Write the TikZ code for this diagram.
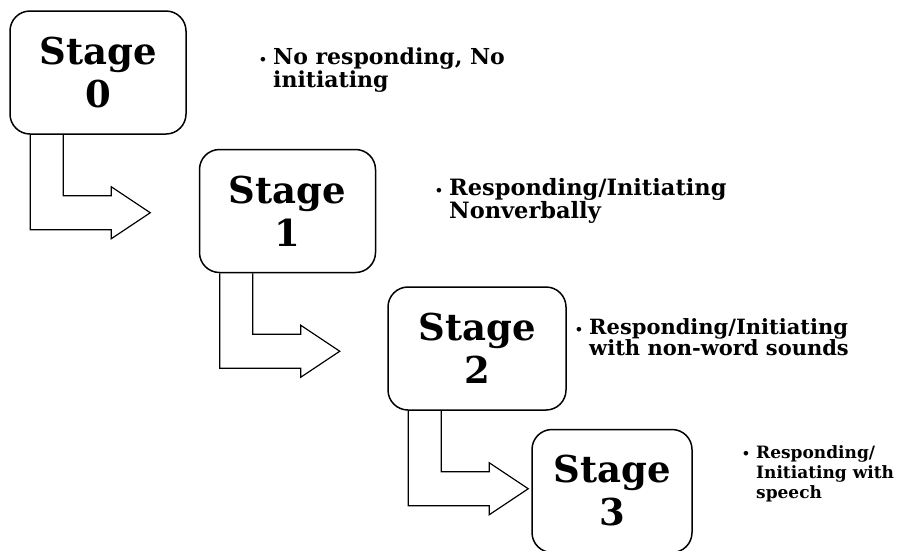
\documentclass[tikz,border=0pt]{standalone}
\usepackage{fontspec}
\setmainfont{DejaVu Serif}
\usetikzlibrary{calc}

\tikzset{
  stagebox/.style={draw, line width=1.5pt, rounded corners=20pt, align=center,
    inner sep=0pt, minimum height=123pt,
    font=\bfseries\fontsize{37}{43}\selectfont},
  flow/.style={draw, line width=1.2pt, line join=miter},
  % anchored at the baseline of the last line
  note/.style={anchor=base west, align=left, inner sep=0pt,
    font=\bfseries\fontsize{21.5}{21.5}\selectfont},
  smallnote/.style={note, font=\bfseries\fontsize{17}{20}\selectfont},
}
\newcommand\bulletmark{\llap{{\fontsize{13}{13}\selectfont\textbullet}\hspace{6pt}}}

% hollow bent arrow leaving the bottom edge of a stage box
\newcommand\stepArrow[1]{%
  \draw[flow] ($(#1.south west)+(54,0)$) -- ++(0,61) -- ++(48,0) -- ++(0,-9)
    -- ++(39,26) -- ++(-39,26) -- ++(0,-9) -- ++(-81,0)
    -- ($(#1.south west)+(21,0)$);}

\begin{document}
\begin{tikzpicture}[x=1pt, y=-1pt]
  \useasboundingbox (0,0) rectangle (901,550);

  \node[stagebox, minimum width=176pt] (s0) at (98,72.5) {Stage\\0};
  \node[stagebox, minimum width=176pt] (s1) at (287.5,211) {Stage\\1};
  \node[stagebox, minimum width=178pt] (s2) at (477,348.5) {Stage\\2};
  \node[stagebox, minimum width=160pt] (s3) at (612,491) {Stage\\3};

  \stepArrow{s0}
  \stepArrow{s1}
  \stepArrow{s2}

  \node[note, font=\bfseries\fontsize{22}{21.5}\selectfont] (t0) at (273,87)
    {\bulletmark No responding, No\\initiating};
  \node[note, font=\bfseries\fontsize{22.5}{23}\selectfont] (t1) at (449,218)
    {\bulletmark Responding/Initiating\\Nonverbally};
  \node[note, font=\bfseries\fontsize{21}{21}\selectfont] (t2) at (589,355)
    {\bulletmark Responding/Initiating\\with non-word sounds};
  \node[smallnote] (t3) at (756,498) {\bulletmark Responding/\\Initiating with\\speech};
\end{tikzpicture}
\end{document}
